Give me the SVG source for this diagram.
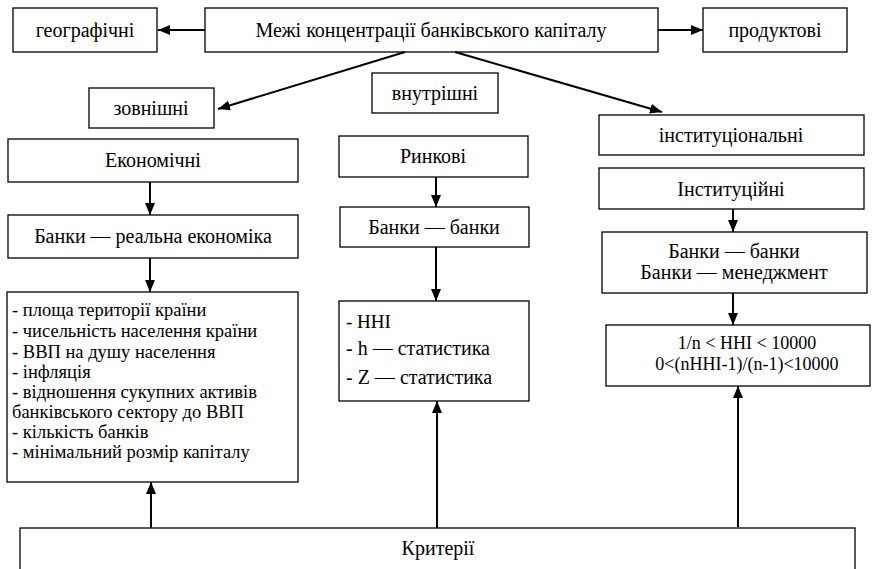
<svg xmlns="http://www.w3.org/2000/svg" width="873" height="569" viewBox="0 0 873 569">
<style>
.box{fill:#fff;stroke:#000;stroke-width:1.3}
.conn line{stroke:#000;stroke-width:2;marker-end:url(#ah)}
</style>
<defs>
<marker id="ah" markerUnits="userSpaceOnUse" markerWidth="13" markerHeight="11" refX="12" refY="5" orient="auto">
<path d="M0,0 L12,5 L0,10 z" fill="#000"/>
</marker>
</defs>
<rect width="873" height="569" fill="#fff"/>
<g font-family="'Liberation Serif', 'Times New Roman', serif" font-size="20" fill="#000">
<g id="geo"><rect class="box" x="13" y="8" width="144" height="44"/><text x="85" y="37" text-anchor="middle">географічні</text></g>
<g id="main"><rect class="box" x="205" y="8" width="453" height="44"/><text x="431" y="37" text-anchor="middle">Межі концентрації банківського капіталу</text></g>
<g id="prod"><rect class="box" x="703" y="8" width="144" height="44"/><text x="775" y="37" text-anchor="middle">продуктові</text></g>
<g id="zovn"><rect class="box" x="89" y="88" width="125" height="40"/><text x="151" y="115" text-anchor="middle">зовнішні</text></g>
<g id="vnutr"><rect class="box" x="372" y="73" width="126" height="40"/><text x="435" y="100" text-anchor="middle">внутрішні</text></g>
<g id="inst"><rect class="box" x="599" y="115" width="265" height="40"/><text x="731" y="142" text-anchor="middle">інституціональні</text></g>
<g id="econ"><rect class="box" x="8" y="139" width="290" height="43"/><text x="153" y="167" text-anchor="middle">Економічні</text></g>
<g id="bre"><rect class="box" x="8" y="215" width="290" height="43"/><text x="153" y="243" text-anchor="middle">Банки — реальна економіка</text></g>
<g id="list1" font-size="18.5"><rect class="box" x="7" y="292" width="291" height="190"/>
<text x="12" y="316">- площа території країни</text>
<text x="12" y="337">- чисельність населення країни</text>
<text x="12" y="358">- ВВП на душу населення</text>
<text x="12" y="378">- інфляція</text>
<text x="12" y="398">- відношення сукупних активів</text>
<text x="12" y="418">банківського сектору до ВВП</text>
<text x="12" y="438">- кількість банків</text>
<text x="12" y="458">- мінімальний розмір капіталу</text>
</g>
<g id="rynk"><rect class="box" x="339" y="136" width="189" height="41"/><text x="433" y="163" text-anchor="middle">Ринкові</text></g>
<g id="bb"><rect class="box" x="340" y="207" width="189" height="40"/><text x="434" y="234" text-anchor="middle">Банки — банки</text></g>
<g id="hhi"><rect class="box" x="339" y="301" width="190" height="100"/>
<text x="346" y="328" font-size="19">- HHI</text>
<text x="346" y="355">- h — статистика</text>
<text x="346" y="384">- Z — статистика</text>
</g>
<g id="instit"><rect class="box" x="599" y="168" width="265" height="41"/><text x="731" y="196" text-anchor="middle">Інституційні</text></g>
<g id="bbm"><rect class="box" x="602" y="232" width="265" height="61"/><text x="734" y="258" text-anchor="middle">Банки — банки</text><text x="734" y="279" text-anchor="middle">Банки — менеджмент</text></g>
<g id="formula" font-size="18"><rect class="box" x="606" y="325" width="264" height="61"/><text x="747" y="349" text-anchor="middle">1/n &lt; HHI &lt; 10000</text><text x="747" y="370" text-anchor="middle">0&lt;(nHHI-1)/(n-1)&lt;10000</text></g>
<g id="krit"><rect class="box" x="20" y="528" width="835" height="60"/><text x="438" y="555" text-anchor="middle">Критерії</text></g>
</g>
<g class="conn" id="connectors">
<line x1="205" y1="30" x2="158" y2="30"/>
<line x1="658" y1="30" x2="703" y2="30"/>
<line x1="405" y1="52" x2="218" y2="109"/>
<line x1="455" y1="52" x2="662" y2="112"/>
<line x1="150" y1="182" x2="150" y2="215"/>
<line x1="150" y1="258" x2="150" y2="292"/>
<line x1="436" y1="177" x2="436" y2="207"/>
<line x1="436" y1="247" x2="436" y2="301"/>
<line x1="733" y1="209" x2="733" y2="232"/>
<line x1="733" y1="293" x2="733" y2="325"/>
<line x1="151" y1="528" x2="151" y2="482"/>
<line x1="437" y1="528" x2="437" y2="401"/>
<line x1="738" y1="527" x2="738" y2="386"/>
</g>
</svg>
